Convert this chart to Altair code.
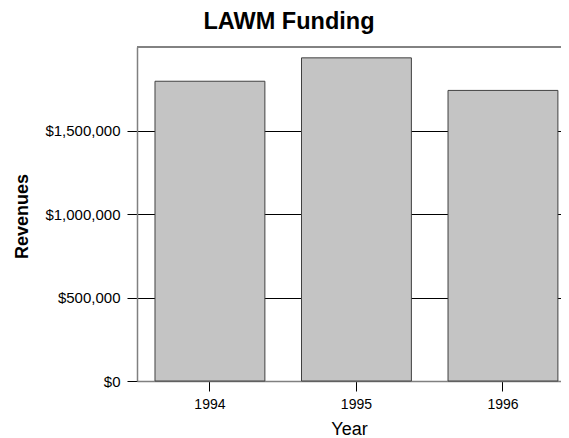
import altair as alt
import pandas as pd

years = ["1994", "1995", "1996"]
revenues = [1795000, 1935000, 1740000]
y_ticks = [0, 500000, 1000000, 1500000]

df = pd.DataFrame({"Year": years, "Revenues": revenues})

FONT = "Liberation Sans"

bars = alt.Chart(df).mark_bar(
    color="#c4c4c4", stroke="#404040", strokeWidth=1
).encode(
    x=alt.X("Year:N", title="Year",
            scale=alt.Scale(paddingInner=0.25, paddingOuter=0.072, align=0.853),
            axis=alt.Axis(labelAngle=0, tickSize=10, tickColor="#000000",
                          labelPadding=6, labelFontSize=14, labelColor="#000000",
                          labelFont=FONT, titleFont=FONT, titleFontSize=18,
                          titleFontWeight="normal", titleColor="#000000",
                          titleY=53, titleBaseline="alphabetic",
                          domain=True, domainColor="#808080", domainWidth=1.5,
                          grid=False)),
    y=alt.Y("Revenues:Q", title="Revenues",
            scale=alt.Scale(domain=[0, 2000000], nice=False),
            axis=alt.Axis(values=y_ticks, format="$,.0f", tickSize=10,
                          tickColor="#000000", labelPadding=7, labelFontSize=15,
                          labelColor="#000000", labelFont=FONT,
                          grid=True, gridColor="#000000", gridWidth=1, gridOpacity=1,
                          domain=True, domainColor="#808080", domainWidth=1.5,
                          titleFont=FONT, titleFontSize=18,
                          titleFontWeight="bold", titleColor="#000000",
                          titleAngle=-90, titleX=-115, titleY=169,
                          titleAlign="center", titleBaseline="middle")),
)

top_line = alt.Chart(df).mark_rule(color="#808080", strokeWidth=1.5).encode(
    y=alt.value(0)
)

chart = alt.layer(bars, top_line).properties(
    width=424,
    height=334,
    title=alt.TitleParams("LAWM Funding", font=FONT, fontSize=23.5, fontWeight="bold",
                          color="#000000", anchor="middle", dx=-60, dy=25, frame="group",
                          baseline="alphabetic", offset=19),
    padding={"left": 129, "top": 39, "right": 0, "bottom": 57},
    autosize=alt.AutoSizeParams(type="none"),
).configure_view(
    strokeWidth=0
)

chart.save("out.html", embed_options={"renderer": "svg", "actions": False})
